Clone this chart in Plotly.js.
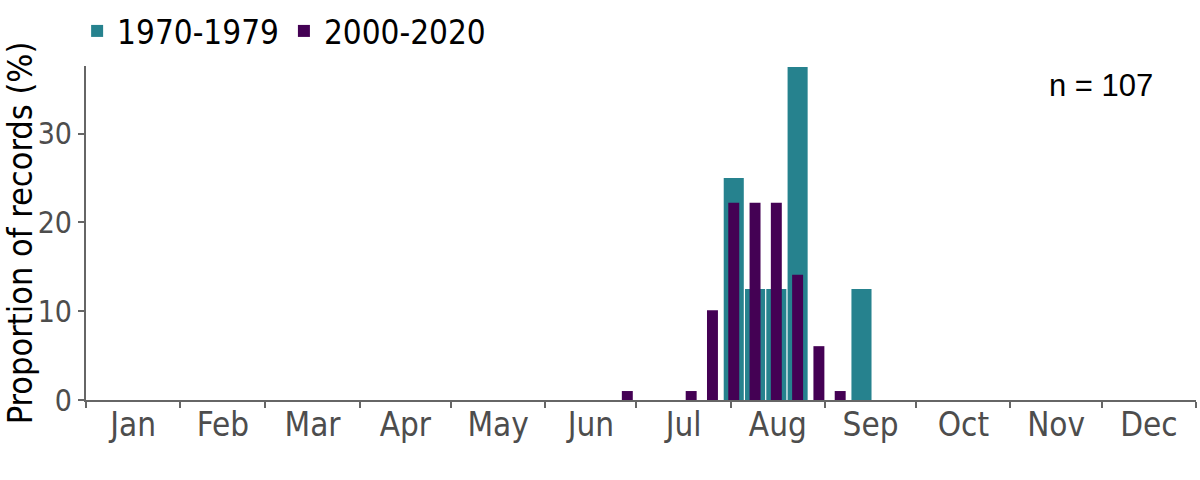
<!DOCTYPE html>
<html>
<head>
<meta charset="utf-8">
<script src="https://cdn.plot.ly/plotly-3.0.1.min.js"></script>
<style>html,body{margin:0;padding:0;background:#fff;}#chart{width:1200px;height:480px;}</style>
</head>
<body>
<div id="chart"></div>
<script>
// Weekly bins (bin centre dates) and proportion of records (%)
const weeks1970 = ['2021-08-02', '2021-08-09', '2021-08-16', '2021-08-23', '2021-09-13'];
const values1970 = [25, 12.5, 12.5, 37.5, 12.5];
const weeks2000 = ['2021-06-28', '2021-07-19', '2021-07-26', '2021-08-02', '2021-08-09', '2021-08-16', '2021-08-23', '2021-08-30', '2021-09-06'];
const values2000 = [1.01, 1.01, 10.1, 22.2, 22.2, 22.2, 14.1, 6.06, 1.01];
const seriesNames = ['1970-1979', '2000-2020'];
const nLabel = 'n = 107';

const DAY = 86400000;
const FONT = '"DejaVu Sans Condensed", "DejaVu Sans", sans-serif';

const traces = [
  {type: 'bar', name: seriesNames[0], x: weeks1970, y: values1970,
   width: 6.6 * DAY, marker: {color: '#26828E'}, hoverinfo: 'x+y'},
  {type: 'bar', name: seriesNames[1], x: weeks2000, y: values2000,
   width: 3.6 * DAY, marker: {color: '#440154'}, hoverinfo: 'x+y'}
];

const layout = {
  width: 1200, height: 480,
  margin: {l: 86, r: 4, t: 65, b: 80},
  paper_bgcolor: '#fff', plot_bgcolor: '#fff',
  barmode: 'overlay',
  font: {family: FONT, color: '#4d4d4d'},
  showlegend: true,
  legend: {orientation: 'h', x: -0.008, xanchor: 'left', y: 1.018, yanchor: 'bottom',
           font: {family: FONT, size: 33, color: '#000'}, traceorder: 'normal',
           itemwidth: 30, tracegroupgap: 0, bgcolor: 'rgba(0,0,0,0)'},
  xaxis: {
    type: 'date', range: ['2021-01-01', '2022-01-01'],
    tick0: '2021-01-01', dtick: 'M1', tickformat: '%b', ticklabelmode: 'period',
    ticks: 'outside', ticklen: 6, tickwidth: 2, tickcolor: '#666',
    ticklabelstandoff: -12,
    showline: true, linecolor: '#666', linewidth: 2,
    showgrid: false, zeroline: false, automargin: false,
    tickfont: {family: FONT, size: 33, color: '#4d4d4d'}
  },
  yaxis: {
    range: [0, 37.6], dtick: 10, tick0: 0,
    ticks: 'outside', ticklen: 6, tickwidth: 2, tickcolor: '#666',
    showline: true, linecolor: '#666', linewidth: 2,
    showgrid: false, zeroline: false, automargin: true,
    tickfont: {family: FONT, size: 30, color: '#4d4d4d'},
    title: {text: 'Proportion of records (%)', font: {family: FONT, size: 34, color: '#000'}, standoff: 0}
  },
  annotations: [{
    text: nLabel, xref: 'paper', yref: 'paper', x: 0.963, y: 0.943,
    xanchor: 'right', yanchor: 'middle', showarrow: false,
    font: {family: '"Liberation Sans", Arial, sans-serif', size: 31, color: '#000'}
  }]
};

Plotly.newPlot('chart', traces, layout, {displayModeBar: false, staticPlot: true});
</script>
</body>
</html>
